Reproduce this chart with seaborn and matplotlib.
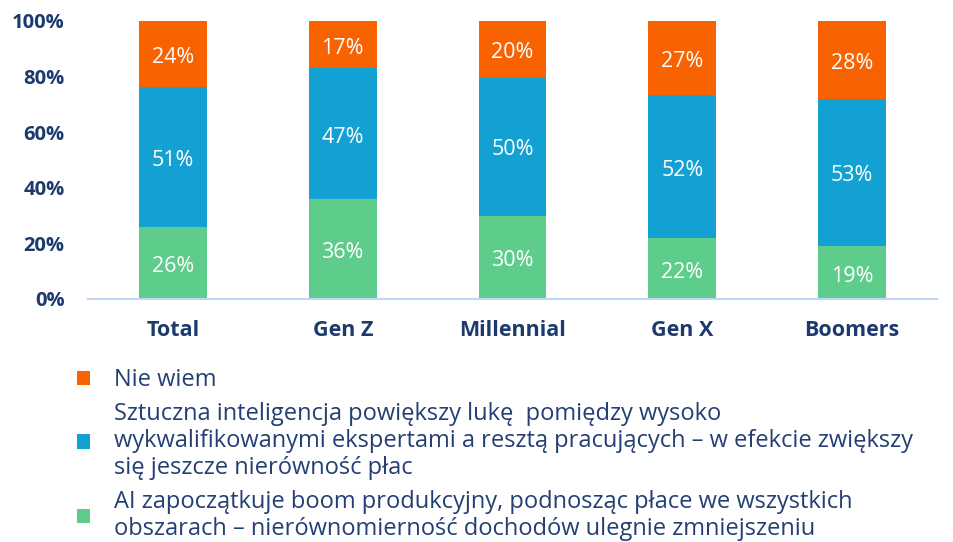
import matplotlib
matplotlib.use("Agg")
import matplotlib.pyplot as plt
import numpy as np
import pandas as pd
import seaborn as sns

# Dane z wykresu (udziały w %)
grupy = ["Total", "Gen Z", "Millennial", "Gen X", "Boomers"]
boom = [26, 36, 30, 22, 19]
luka = [51, 47, 50, 52, 53]
nie_wiem = [24, 17, 20, 27, 28]

etykiety = [
    "Nie wiem",
    "Sztuczna inteligencja powiększy lukę  pomiędzy wysoko\n"
    "wykwalifikowanymi ekspertami a resztą pracujących – w efekcie zwiększy\n"
    "się jeszcze nierówność płac",
    "AI zapoczątkuje boom produkcyjny, podnosząc płace we wszystkich\n"
    "obszarach – nierównomierność dochodów ulegnie zmniejszeniu",
]

kolory = {"boom": "#5ECC8A", "luka": "#13A0D3", "nie_wiem": "#F86200"}
granat = "#1C3A6E"

sns.set_theme(style="white")
plt.rcParams["font.family"] = ["Open Sans", "DejaVu Sans"]

df = pd.DataFrame({"grupa": grupy, "boom": boom, "luka": luka, "nie_wiem": nie_wiem})
suma = df[["boom", "luka", "nie_wiem"]].sum(axis=1)
# słupki znormalizowane do 100%
for c in ["boom", "luka", "nie_wiem"]:
    df[c + "_n"] = df[c] / suma * 100

fig = plt.figure(figsize=(9.54, 5.42), dpi=100)
ax = fig.add_axes([88 / 954, (542 - 299) / 542, (937 - 88) / 954, 278 / 542])

dol = np.zeros(len(df))
kontenery = {}
for c in ["boom", "luka", "nie_wiem"]:
    sns.barplot(data=df, x="grupa", y=c + "_n", color=kolory[c], width=0.4,
                bottom=dol, ax=ax, saturation=1, linewidth=0)
    kontenery[c] = ax.containers[-1]
    dol = dol + df[c + "_n"].values

for c in ["boom", "luka", "nie_wiem"]:
    napisy = ax.bar_label(kontenery[c], labels=[f"{v}%" for v in df[c]], label_type="center",
                          color="white", fontsize=15.5)
    for t in napisy:
        t.xyann = (0, -2.5)

ax.set_ylim(0, 100)
ax.set_xlim(-0.5, 4.5)
ax.set_yticks(range(0, 101, 20))
ax.set_yticklabels([f"{v}%" for v in range(0, 101, 20)])
ax.set_xlabel("")
ax.set_ylabel("")
ax.tick_params(axis="y", length=0, pad=17, labelsize=14.5, labelcolor=granat)
ax.tick_params(axis="x", length=0, pad=15, labelsize=15.5, labelcolor=granat)
for t in ax.get_xticklabels() + ax.get_yticklabels():
    t.set_fontweight("bold")
for s in ["top", "right", "left"]:
    ax.spines[s].set_visible(False)
ax.spines["bottom"].set_color("#BFD7F2")
ax.spines["bottom"].set_linewidth(1.5)

# Legenda
uchwyty = [kontenery["nie_wiem"][0], kontenery["luka"][0], kontenery["boom"][0]]
leg = fig.legend(uchwyty, etykiety, loc="upper left", bbox_to_anchor=(56 / 954, 1 - 347 / 542),
                 frameon=False, fontsize=17, handlelength=0.55, handleheight=0.55,
                 handletextpad=1.0, labelspacing=0.4, labelcolor="#233F73")
for t in leg.get_texts():
    t.set_linespacing(1.18)

fig.savefig("out.png", dpi=100)
